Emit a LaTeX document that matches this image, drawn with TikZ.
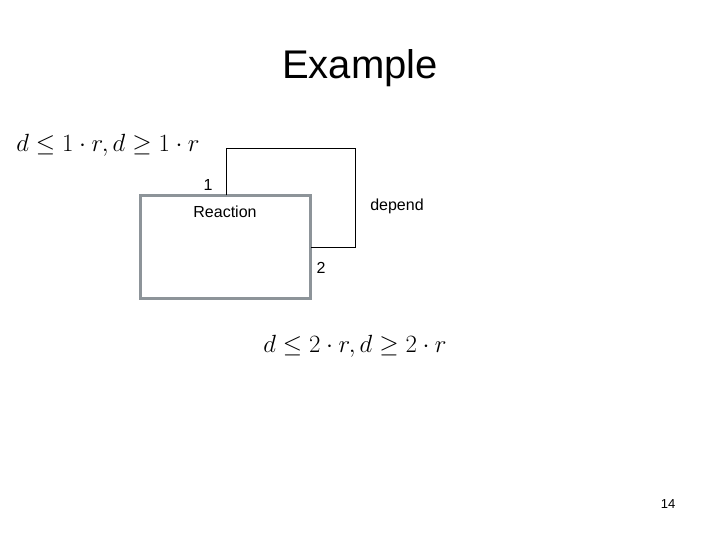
\documentclass[tikz,border=0pt]{standalone}
\usepackage{fontspec}
\setmainfont{Liberation Sans}
\usepackage{amssymb}
\begin{document}
\begin{tikzpicture}[x=1pt,y=-1pt,
  lbl/.style={inner sep=0pt,font=\fontsize{16}{18}\selectfont},
  frm/.style={inner sep=0pt,font=\fontsize{25}{28}\selectfont}]
\useasboundingbox (0,0) rectangle (720,540);
\node[inner sep=0pt,font=\fontsize{40}{44}\selectfont] (title) at (360,68) {Example};
\node[frm] (f1) at (108,145) {$d\le 1\cdot r, d\ge 1\cdot r$};
\node[draw=gray!70!cyan!30!gray,line width=3pt,minimum width=170pt,minimum height=102pt,inner sep=0pt] (rx) at (225,247) {};
\coordinate (top) at (226,195.5);
\coordinate (rt) at (311,247);
\draw[line width=1pt] (top) -- (226,149) -- (355,149) -- (355,247) -- (rt);
\node[lbl] (one) at (208,185) {1};
\node[lbl] (rl) at (225,212) {Reaction};
\node[lbl] (dep) at (397,206) {depend};
\node[lbl] (two) at (321,268) {2};
\node[frm] (f2) at (355,346) {$d\le 2\cdot r, d\ge 2\cdot r$};
\node[inner sep=0pt,font=\fontsize{13}{15}\selectfont] (pg) at (668,504) {14};
\end{tikzpicture}
\end{document}
